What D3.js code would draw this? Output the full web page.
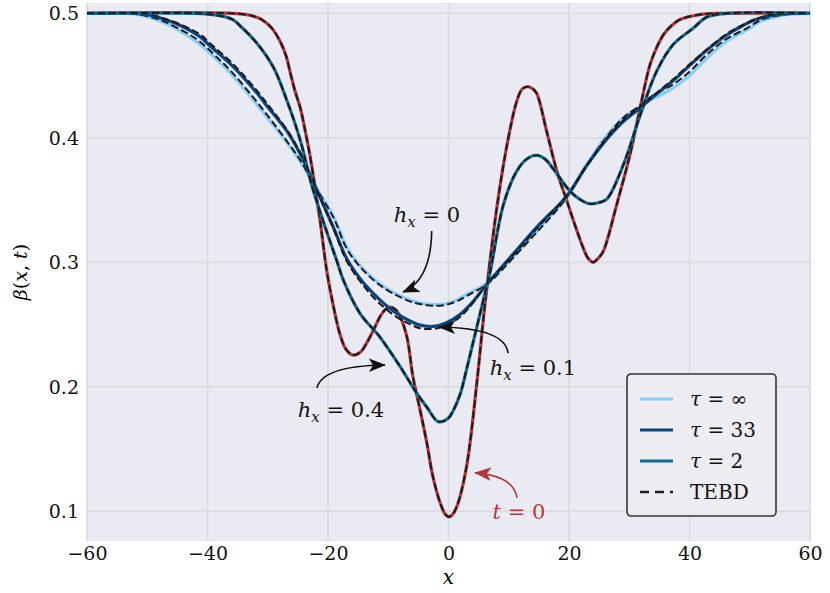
<!DOCTYPE html>
<html>
<head>
<meta charset="utf-8">
<script src="https://cdn.jsdelivr.net/npm/d3@7"></script>
<style>
    body { margin: 0; background: #fff; }
</style>
</head>
<body>
<div id="chart"></div>
<script>
let xTicks = [-60, -40, -20, 0, 20, 40, 60];
let yTicks = [0.1, 0.2, 0.3, 0.4, 0.5];

// t = 0 (initial profile)
let t0X = [-60, -36, -33, -31, -29.5, -28, -26.9, -26.3, -25.5, -24.6, -23.8, -23, -22.2, -21.3, -20.2, -19.2, -18, -17,
    -15.8, -14.6, -13.6, -12.4, -11.4, -10.5, -9.7, -8.8, -8, -6.9, -5.9, -4.7, -3.6, -2.6, -1.4, -0.6, 0, 0.6, 1.4, 3,
    4.7, 5.8, 6.5, 8, 9.7, 11.3, 12.2, 13, 13.8, 14.6, 16.3, 18, 19.6, 20.7, 22.4, 23.2, 24, 24.8, 25.7, 27.9, 30.1,
    31.8, 33.4, 34.5, 35.7, 37, 38.4, 41.7, 45, 60];
let t0Y = [0.5, 0.5, 0.4985, 0.495, 0.489, 0.478, 0.465, 0.453, 0.438, 0.424, 0.406, 0.386, 0.362, 0.333, 0.293,
    0.267, 0.242, 0.23, 0.2255, 0.228, 0.235, 0.246, 0.256, 0.262, 0.264, 0.262, 0.256, 0.24, 0.208, 0.181, 0.155,
    0.128, 0.107, 0.098, 0.0955, 0.097, 0.104, 0.136, 0.203, 0.255, 0.285, 0.343, 0.394, 0.429, 0.439, 0.441, 0.44,
    0.436, 0.405, 0.373, 0.35, 0.334, 0.311, 0.303, 0.3, 0.303, 0.309, 0.346, 0.386, 0.424, 0.458, 0.472, 0.483,
    0.49, 0.495, 0.499, 0.5, 0.5];

// h_x = 0  (tau = inf)
let h0X = [-60, -53, -51, -48, -45.7, -43, -41.2, -38.5, -36, -33, -30.2, -27.4, -24.6, -22.4, -19.1, -16.9, -14.8,
    -12.5, -10.3, -8, -6, -4.2, -2.2, -0.3, 1.5, 3, 6.3, 8.5, 10.8, 15.2, 18.5, 20.2, 23, 26.3, 29, 31.8, 33, 35, 37.3,
    40, 42.9, 46, 49.5, 52, 55, 57.5, 60];
let h0Y = [0.5, 0.5, 0.4985, 0.494, 0.489, 0.481, 0.475, 0.463, 0.451, 0.434, 0.417, 0.4, 0.381, 0.363, 0.337,
    0.3125, 0.298, 0.287, 0.279, 0.273, 0.269, 0.2668, 0.266, 0.2668, 0.27, 0.274, 0.283, 0.293, 0.305, 0.328, 0.346,
    0.357, 0.379, 0.402, 0.416, 0.425, 0.429, 0.434, 0.44, 0.45, 0.464, 0.477, 0.4866, 0.494, 0.498, 0.4995, 0.5];
let h0TebdY = [0.5, 0.5, 0.4988, 0.495, 0.49, 0.483, 0.477, 0.465, 0.453, 0.436, 0.419, 0.401, 0.382, 0.363, 0.336,
    0.311, 0.297, 0.286, 0.278, 0.272, 0.268, 0.266, 0.265, 0.266, 0.269, 0.273, 0.282, 0.292, 0.304, 0.327, 0.345,
    0.356, 0.378, 0.401, 0.416, 0.426, 0.431, 0.437, 0.443, 0.453, 0.467, 0.479, 0.488, 0.495, 0.4985, 0.4997, 0.5];

// h_x = 0.1  (tau = 33)
let h1X = [-60, -52, -49.5, -47, -44, -41.2, -39.6, -35.7, -31.3, -30.2, -26.9, -24.6, -22.4, -19.1, -16.9, -14.7,
    -12.5, -10.5, -8.6, -6.5, -4.7, -2.5, -0.5, 1.9, 4, 6.3, 10.8, 15.2, 18.5, 20.2, 23, 26.3, 29, 31.8, 33, 35, 37.3,
    40, 42.9, 46, 48.4, 51, 53.9, 57, 60];
let h1Y = [0.5, 0.5, 0.4985, 0.495, 0.489, 0.481, 0.474, 0.457, 0.433, 0.426, 0.406, 0.387, 0.364, 0.328, 0.303,
    0.287, 0.275, 0.266, 0.259, 0.253, 0.2495, 0.2485, 0.251, 0.258, 0.268, 0.282, 0.307, 0.331, 0.347, 0.357, 0.378,
    0.399, 0.413, 0.424, 0.429, 0.437, 0.446, 0.458, 0.4705, 0.482, 0.489, 0.495, 0.4986, 0.5, 0.5];
let h1TebdY = [0.5, 0.5, 0.499, 0.4955, 0.49, 0.483, 0.476, 0.459, 0.435, 0.428, 0.407, 0.388, 0.364, 0.327, 0.301,
    0.285, 0.272, 0.263, 0.256, 0.2505, 0.247, 0.2465, 0.249, 0.256, 0.267, 0.282, 0.306, 0.33, 0.347, 0.357, 0.378,
    0.4, 0.414, 0.425, 0.43, 0.438, 0.447, 0.459, 0.471, 0.483, 0.4895, 0.4955, 0.499, 0.5, 0.5];

// h_x = 0.4  (tau = 2)
let h4X = [-60, -42, -38.5, -35.8, -34.6, -31.8, -29.1, -26.9, -24.6, -22.7, -20.8, -18.6, -17.4, -14.7, -11.4, -8,
    -5.3, -3.5, -1.7, 0, 0.8, 2, 3, 4.7, 5.8, 6.9, 9.1, 11.3, 13, 14.6, 16, 17.4, 20.2, 22, 23.5, 25, 26.3, 29, 31.8,
    34.5, 37.3, 40.6, 42.9, 46.2, 60];
let h4Y = [0.5, 0.5, 0.4985, 0.495, 0.49, 0.476, 0.457, 0.431, 0.398, 0.362, 0.333, 0.302, 0.285, 0.259, 0.24,
    0.216, 0.195, 0.183, 0.172, 0.175, 0.181, 0.195, 0.214, 0.248, 0.27, 0.292, 0.346, 0.373, 0.383, 0.386, 0.383,
    0.375, 0.357, 0.35, 0.347, 0.348, 0.351, 0.378, 0.418, 0.453, 0.475, 0.488, 0.497, 0.5, 0.5];

let legendLabels = ['τ = ∞', 'τ = 33', 'τ = 2', 'TEBD'];
let colInf = '#87cefa', col33 = '#0b457e', col2 = '#126b90', colT0 = '#b4373d', colTebd = '#1c1c1c';

let W = 830, H = 593;
let margin = {left: 87, right: 20, top: 3, bottom: 52};
let fontFam = '"DejaVu Serif", serif';

let svg = d3.select('#chart').append('svg')
    .attr('width', W)
    .attr('height', H)
    .style('font-family', fontFam);

let x = d3.scaleLinear().domain([-60, 60]).range([margin.left, W - margin.right]);
let y = d3.scaleLinear().domain([0.0761, 0.5083]).range([H - margin.bottom, margin.top]);

// background and grid
svg.append('rect')
    .attr('x', margin.left).attr('y', margin.top)
    .attr('width', W - margin.left - margin.right)
    .attr('height', H - margin.top - margin.bottom)
    .attr('fill', '#eaeaf2');

svg.append('g').selectAll('line').data(xTicks).enter().append('line')
    .attr('x1', d => x(d)).attr('x2', d => x(d))
    .attr('y1', margin.top).attr('y2', H - margin.bottom)
    .attr('stroke', '#dcdcdf').attr('stroke-width', 1.8);
svg.append('g').selectAll('line').data(yTicks).enter().append('line')
    .attr('x1', margin.left).attr('x2', W - margin.right)
    .attr('y1', d => y(d)).attr('y2', d => y(d))
    .attr('stroke', '#dcdcdf').attr('stroke-width', 1.8);

// tick labels through d3 axes, with lines hidden
let xAxis = svg.append('g')
    .attr('transform', 'translate(0,' + (H - margin.bottom) + ')')
    .call(d3.axisBottom(x).tickValues(xTicks).tickSize(0).tickPadding(5)
        .tickFormat(d => d < 0 ? '\u2212' + Math.abs(d) : d));
let yAxis = svg.append('g')
    .attr('transform', 'translate(' + margin.left + ',0)')
    .call(d3.axisLeft(y).tickValues(yTicks).tickSize(0).tickPadding(8).tickFormat(d3.format('.1f')));
[xAxis, yAxis].forEach(a => {
    a.attr('font-family', null);
    a.select('.domain').remove();
    a.selectAll('text')
        .style('font-family', fontFam)
        .style('font-size', '19px')
        .attr('fill', '#111');
});
yAxis.selectAll('text').attr('dy', '0.35em');
xAxis.selectAll('text').attr('dy', '0.75em');

// curves
svg.append('clipPath').attr('id', 'clip').append('rect')
    .attr('x', margin.left).attr('y', margin.top)
    .attr('width', W - margin.left - margin.right)
    .attr('height', H - margin.top - margin.bottom);

let line = d3.line()
    .x(d => x(d[0]))
    .y(d => y(d[1]))
    .curve(d3.curveCatmullRom.alpha(0.5));

let plot = svg.append('g').attr('clip-path', 'url(#clip)');

function drawSeries(xs, ys, color, width, dash) {
    let pts = xs.map((v, i) => [v, ys[i]]);
    plot.append('path')
        .datum(pts)
        .attr('d', line)
        .attr('fill', 'none')
        .attr('stroke', color)
        .attr('stroke-width', width)
        .attr('stroke-dasharray', dash || null)
        .attr('stroke-linejoin', 'round');
}

let dash = '7.4,3.4';
drawSeries(t0X, t0Y, colT0, 3.2);
drawSeries(t0X, t0Y, colTebd, 2, dash);
drawSeries(h0X, h0Y, colInf, 3.2);
drawSeries(h0X, h0TebdY, colTebd, 2, dash);
drawSeries(h1X, h1Y, col33, 3.2);
drawSeries(h1X, h1TebdY, colTebd, 2, dash);
drawSeries(h4X, h4Y, col2, 3.2);
drawSeries(h4X, h4Y, colTebd, 2, dash);

// annotations (positions in data units)
let notes = [
    {lab: ['h', 'x', '0'], color: '#111', tx: -3.57, ty: 0.338, s: [-2.79, 0.3251], c: [-2.9, 0.2858], e: [-7.55, 0.2761]},
    {lab: ['h', 'x', '0.1'], color: '#111', tx: 14.02, ty: 0.2152, s: [9.88, 0.2271], c: [9.38, 0.2472], e: [-1.58, 0.248]},
    {lab: ['h', 'x', '0.4'], color: '#111', tx: -17.84, ty: 0.1813, s: [-21.83, 0.199], c: [-21.0, 0.2167], e: [-10.54, 0.2175]},
    {lab: ['t', null, '0'], color: colT0, tx: 11.7, ty: 0.0995, s: [11.37, 0.1107], c: [10.87, 0.1284], e: [4.4, 0.1308]}
];

let defs = svg.append('defs');
notes.forEach((n, i) => {
    defs.append('marker')
        .attr('id', 'head' + i)
        .attr('viewBox', '0 0 20 16')
        .attr('refX', 19).attr('refY', 8)
        .attr('markerWidth', 17).attr('markerHeight', 13.6)
        .attr('markerUnits', 'userSpaceOnUse')
        .attr('orient', 'auto')
        .append('path')
        .attr('d', 'M0,0 L20,8 L0,16 L5,8 Z')
        .attr('fill', n.color);

    let p = d3.path();
    p.moveTo(x(n.s[0]), y(n.s[1]));
    p.quadraticCurveTo(x(n.c[0]), y(n.c[1]), x(n.e[0]), y(n.e[1]));
    svg.append('path')
        .attr('d', p.toString())
        .attr('fill', 'none')
        .attr('stroke', n.color)
        .attr('stroke-width', 1.6)
        .attr('marker-end', 'url(#head' + i + ')');

    let t = svg.append('text')
        .attr('x', x(n.tx)).attr('y', y(n.ty) + 7)
        .attr('text-anchor', 'middle')
        .attr('fill', n.color)
        .style('font-size', '21px');
    t.append('tspan').style('font-style', 'italic').text(n.lab[0]);
    if (n.lab[1]) {
        t.append('tspan').style('font-style', 'italic').style('font-size', '15px')
            .attr('dy', 5).text(n.lab[1]);
        t.append('tspan').attr('dy', -5).text('\u00a0=\u00a0' + n.lab[2]);
    } else {
        t.append('tspan').text('\u00a0=\u00a0' + n.lab[2]);
    }
});

// axis labels
svg.append('text')
    .attr('x', x(0)).attr('y', 584)
    .attr('text-anchor', 'middle')
    .style('font-size', '20px').style('font-style', 'italic')
    .text('x');

let yl = svg.append('text')
    .attr('transform', 'translate(27,' + ((margin.top + H - margin.bottom) / 2) + ') rotate(-90)')
    .attr('text-anchor', 'middle')
    .style('font-size', '19px');
yl.append('tspan').style('font-style', 'italic').text('β');
yl.append('tspan').text('(');
yl.append('tspan').style('font-style', 'italic').text('x');
yl.append('tspan').text(', ');
yl.append('tspan').style('font-style', 'italic').text('t');
yl.append('tspan').text(')');

// legend
let lg = svg.append('g').attr('transform', 'translate(627,374)');
lg.append('rect')
    .attr('width', 149).attr('height', 142)
    .attr('rx', 4).attr('ry', 4)
    .attr('fill', '#ececf1')
    .attr('stroke', '#333').attr('stroke-width', 1.6);
let legCols = [colInf, col33, col2, colTebd];
legendLabels.forEach((lab, i) => {
    let yy = 25 + i * 31;
    lg.append('line')
        .attr('x1', 13).attr('x2', 46)
        .attr('y1', yy).attr('y2', yy)
        .attr('stroke', legCols[i])
        .attr('stroke-width', i === 3 ? 2.4 : 3.2)
        .attr('stroke-dasharray', i === 3 ? '9,6' : null);
    let t = lg.append('text')
        .attr('x', 63).attr('y', yy + 7)
        .style('font-size', '20px')
        .attr('fill', '#111');
    if (i < 3) {
        let parts = lab.split(' = ');
        t.append('tspan').style('font-style', 'italic').text(parts[0]);
        t.append('tspan').text('\u00a0=\u00a0' + parts[1]);
    } else {
        t.text(lab);
    }
});
</script>
</body>
</html>
